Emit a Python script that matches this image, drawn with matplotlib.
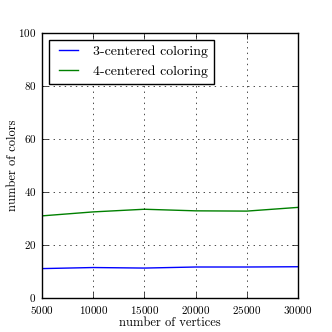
import numpy as np
import matplotlib
matplotlib.use('Agg')
import matplotlib.pyplot as plt

# data
vertices = [5000, 10000, 15000, 20000, 25000, 30000]
colors_3 = [11.1, 11.5, 11.3, 11.7, 11.7, 11.8]
colors_4 = [31.0, 32.5, 33.5, 32.9, 32.8, 34.2]

plt.style.use('classic')
plt.rcParams['font.family'] = 'serif'
plt.rcParams['font.serif'] = ['cmr10', 'DejaVu Serif']
plt.rcParams['axes.formatter.use_mathtext'] = True

fig = plt.figure(figsize=(3.32, 3.32), dpi=100)
fig.patch.set_facecolor('white')
ax = fig.add_axes([0.1265, 0.1024, 0.771, 0.798])

ax.plot(vertices, colors_3, 'b-', label='3-centered coloring')
ax.plot(vertices, colors_4, 'g-', label='4-centered coloring')

ax.set_xlim(5000, 30000)
ax.set_ylim(0, 100)
ax.set_xticks(vertices)
ax.set_yticks([0, 20, 40, 60, 80, 100])
ax.tick_params(labelsize=8)
ax.grid(True)
ax.set_xlabel('number of vertices', fontsize=9, labelpad=1)
ax.set_ylabel('number of colors', fontsize=9)
ax.yaxis.set_label_coords(-0.09, 0.5)
ax.legend(loc='upper left', fontsize=10)

plt.savefig('out.png', dpi=100)
